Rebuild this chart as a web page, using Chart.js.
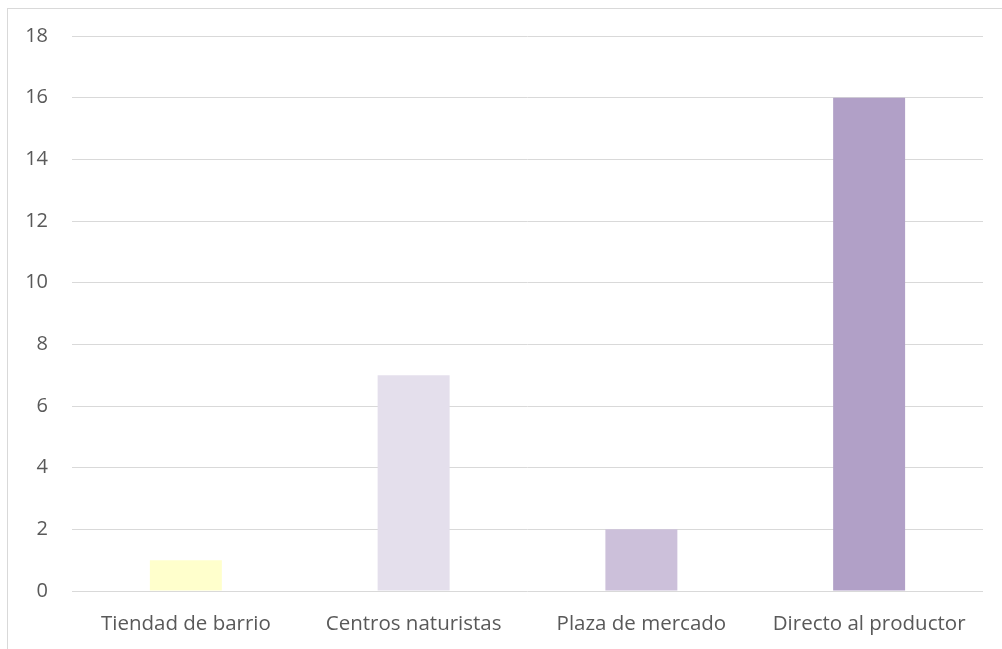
<!DOCTYPE html>
<html>
<head>
<meta charset="utf-8">
<script src="https://cdn.jsdelivr.net/npm/chart.js@4/dist/chart.umd.min.js"></script>
<style>
  html, body { margin: 0; padding: 0; background: #fff; overflow: hidden; }
  #frame {
    position: absolute; left: 7px; top: 8px;
    width: 1100px; height: 700px;
    border: 1px solid #d9d9d9;
  }
  #wrap { position: absolute; left: 0; top: 0; width: 1002px; height: 649px; }
</style>
</head>
<body>
<div id="frame"></div>
<div id="wrap"><canvas id="chart"></canvas></div>
<script>
'use strict'

const categories = ['Tiendad de barrio', 'Centros naturistas', 'Plaza de mercado', 'Directo al productor']
const values = [1, 7, 2, 16]
const barColors = ['#ffffcc', '#e4dfec', '#ccc0da', '#b1a0c7']
const yTicks = [0, 2, 4, 6, 8, 10, 12, 14, 16, 18]

const ctx = document.getElementById('chart').getContext('2d')
new Chart(ctx, {
  type: 'bar',
  data: {
    labels: categories,
    datasets: [
      {
        data: values,
        backgroundColor: barColors,
        borderWidth: 0,
        barPercentage: 0.316,
        categoryPercentage: 1
      }
    ]
  },
  options: {
    responsive: true,
    maintainAspectRatio: false,
    animation: false,
    layout: {
      padding: { top: 35.5, right: 19, left: 0, bottom: 0 }
    },
    plugins: {
      legend: { display: false },
      tooltip: { enabled: false }
    },
    scales: {
      x: {
        grid: { display: false },
        border: { display: false },
        ticks: {
          color: '#595959',
          font: { family: 'Open Sans', size: 20.5 },
          padding: 13,
          maxRotation: 0
        },
        afterFit: (scale) => { scale.height = 58 }
      },
      y: {
        min: 0,
        max: 18,
        afterBuildTicks: (scale) => { scale.ticks = yTicks.map(v => ({ value: v })) },
        grid: { color: '#d9d9d9', lineWidth: 1, drawTicks: false },
        border: { display: false },
        ticks: {
          color: '#595959',
          font: { family: 'Open Sans', size: 20 },
          padding: 24
        },
        afterFit: (scale) => { scale.width = 72 }
      }
    }
  }
})
</script>
</body>
</html>
